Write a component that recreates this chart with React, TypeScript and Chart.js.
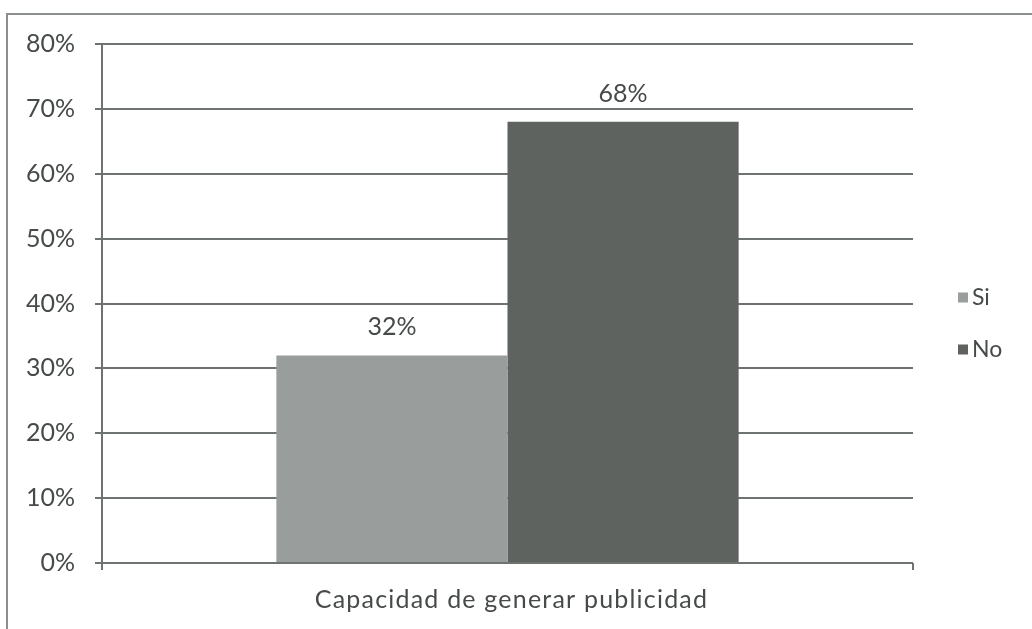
import React, { useEffect, useRef } from "react";
import { Chart, registerables } from "chart.js";

Chart.register(...registerables);

const categories = ["Capacidad de generar publicidad"];
const seriesNames = ["Si", "No"];
const siValues = [32];
const noValues = [68];
const yTicks = [0, 10, 20, 30, 40, 50, 60, 70, 80];

const FONT = "Lato, 'Open Sans', sans-serif";
const TEXT = "#464b48";
const GRID = "#6e7370";
const SI_COLOR = "#999d9b";
const NO_COLOR = "#5e6360";

const valueLabels = {
  id: "valueLabels",
  afterDatasetsDraw(chart: any) {
    const ctx = chart.ctx;
    ctx.save();
    ctx.font = `25px ${FONT}`;
    ctx.fillStyle = TEXT;
    ctx.textAlign = "center";
    ctx.textBaseline = "alphabetic";
    chart.data.datasets.forEach((ds: any, i: number) => {
      const meta = chart.getDatasetMeta(i);
      meta.data.forEach((bar: any, j: number) => {
        ctx.fillText(`${ds.data[j]}%`, bar.x, bar.y - 20);
      });
    });
    ctx.restore();
  },
};

const categoryTitle = {
  id: "categoryTitle",
  afterDraw(chart: any) {
    const ctx = chart.ctx;
    const xs = chart.scales.x;
    ctx.save();
    ctx.font = `25px ${FONT}`;
    (ctx as any).letterSpacing = "1.2px";
    ctx.fillStyle = TEXT;
    ctx.textAlign = "center";
    ctx.textBaseline = "alphabetic";
    chart.data.labels.forEach((lbl: string, i: number) => {
      ctx.fillText(lbl, xs.getPixelForValue(i) + 4, xs.top + 45);
    });
    ctx.restore();
  },
};

const sideLegend = {
  id: "sideLegend",
  afterDraw(chart: any) {
    const ctx = chart.ctx;
    const area = chart.chartArea;
    const cy = (area.top + area.bottom) / 2;
    ctx.save();
    ctx.font = `23px ${FONT}`;
    ctx.textBaseline = "middle";
    ctx.textAlign = "left";
    chart.data.datasets.forEach((ds: any, i: number) => {
      const y = cy - 6 + i * 52;
      const x = area.right + 45;
      ctx.fillStyle = ds.backgroundColor;
      ctx.fillRect(x, y - 5, 10, 10);
      ctx.fillStyle = TEXT;
      ctx.fillText(ds.label, x + 14, y);
    });
    ctx.restore();
  },
};

export default function App() {
  const ref = useRef<HTMLCanvasElement>(null);

  useEffect(() => {
    if (!ref.current) return;
    const chart = new Chart(ref.current, {
      type: "bar",
      data: {
        labels: categories,
        datasets: [
          {
            label: seriesNames[0],
            data: siValues,
            backgroundColor: SI_COLOR,
            categoryPercentage: 0.57,
            barPercentage: 1,
          },
          {
            label: seriesNames[1],
            data: noValues,
            backgroundColor: NO_COLOR,
            categoryPercentage: 0.57,
            barPercentage: 1,
          },
        ],
      },
      options: {
        responsive: false,
        animation: false,
        layout: { padding: { top: 29, right: 119, left: 0, bottom: 0 } },
        plugins: {
          legend: { display: false },
          tooltip: { enabled: false },
        },
        scales: {
          x: {
            grid: {
              display: true,
              drawOnChartArea: false,
              drawTicks: true,
              tickLength: 7,
              color: GRID,
              lineWidth: 2,
            },
            border: { display: false },
            ticks: { display: false },
            afterFit(scale: any) {
              scale.height = 66;
            },
          },
          y: {
            min: 0,
            max: 80,
            afterBuildTicks(scale: any) {
              scale.ticks = yTicks.map((v) => ({ value: v }));
            },
            grid: {
              color: GRID,
              lineWidth: 2,
              tickLength: 7,
            },
            border: { display: true, color: GRID, width: 2 },
            ticks: {
              color: TEXT,
              font: { family: FONT, size: 25, lineHeight: 0.5 },
              padding: 20,
              callback: (v: any) => `${v}%`,
            },
            afterFit(scale: any) {
              scale.width = 94;
            },
          },
        },
      },
      plugins: [valueLabels, categoryTitle, sideLegend],
    });
    return () => chart.destroy();
  }, []);

  return (
    <div
      style={{
        position: "fixed",
        left: 6,
        top: 13,
        width: 1026,
        height: 616,
        borderTop: "2px solid #8a8e8c",
        borderLeft: "2px solid #8a8e8c",
        background: "#fff",
        boxSizing: "border-box",
        overflow: "hidden",
      }}
    >
      <canvas ref={ref} width={1024} height={614} style={{ display: "block" }} />
    </div>
  );
}
